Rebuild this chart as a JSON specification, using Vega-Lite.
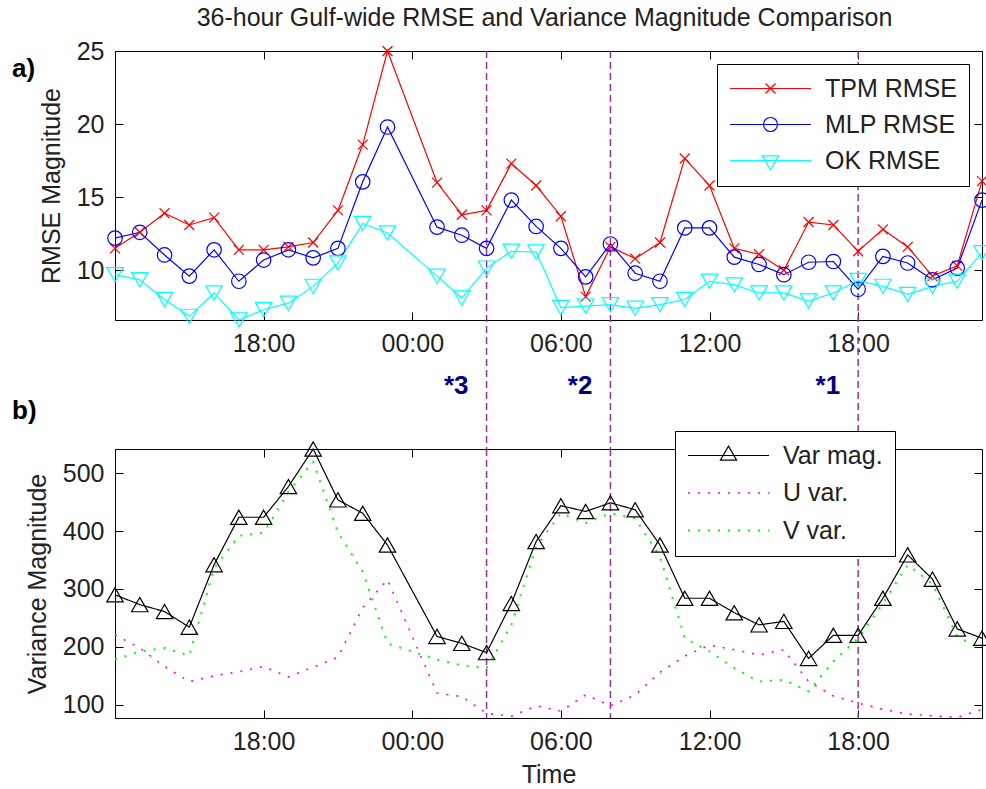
{
  "$schema": "https://vega.github.io/schema/vega-lite/v6.json",
  "background": "white",
  "padding": {"left": 11, "top": 5, "right": 5, "bottom": 5},
  "title": {"text": "36-hour Gulf-wide RMSE and Variance Magnitude Comparison", "fontSize": 25, "font": "Liberation Sans", "fontWeight": "normal", "color": "#222222", "anchor": "middle", "frame": "group", "offset": 8, "dx": -4},
  "config": {
    "font": "Liberation Sans",
    "view": {"stroke": "black", "strokeWidth": 1},
    "axis": {"domainColor": "black", "tickColor": "black", "labelColor": "#222222", "titleColor": "#222222", "labelFontSize": 25, "titleFontSize": 25, "titleFontWeight": "normal", "labelFont": "Liberation Sans", "titleFont": "Liberation Sans", "grid": false, "tickWidth": 1, "domainWidth": 1, "labelFlush": false, "labelOverlap": false},
    "legend": {"labelFont": "Liberation Sans", "labelFontSize": 25, "labelColor": "#222222", "fillColor": "white", "strokeColor": "black", "strokeWidth": 1, "padding": 12, "symbolSize": 6561, "symbolStrokeWidth": 1.2, "labelOffset": 13, "rowPadding": 10, "clipHeight": 25, "zindex": 2}
  },
  "datasets": {
    "events": [
      {"h": 15, "label": "*3"},
      {"h": 20, "label": "*2"},
      {"h": 30, "label": "*1"}
    ],
    "rmse": [
      {"h":0,"series":"TPM RMSE","v":11.5},{"h":1,"series":"TPM RMSE","v":12.6},{"h":2,"series":"TPM RMSE","v":13.9},{"h":3,"series":"TPM RMSE","v":13.1},{"h":4,"series":"TPM RMSE","v":13.6},{"h":5,"series":"TPM RMSE","v":11.4},{"h":6,"series":"TPM RMSE","v":11.4},{"h":7,"series":"TPM RMSE","v":11.6},{"h":8,"series":"TPM RMSE","v":11.9},{"h":9,"series":"TPM RMSE","v":14.1},{"h":10,"series":"TPM RMSE","v":18.6},{"h":11,"series":"TPM RMSE","v":25.0},{"h":13,"series":"TPM RMSE","v":16.0},{"h":14,"series":"TPM RMSE","v":13.8},{"h":15,"series":"TPM RMSE","v":14.1},{"h":16,"series":"TPM RMSE","v":17.3},{"h":17,"series":"TPM RMSE","v":15.8},{"h":18,"series":"TPM RMSE","v":13.7},{"h":19,"series":"TPM RMSE","v":8.2},{"h":20,"series":"TPM RMSE","v":11.6},{"h":21,"series":"TPM RMSE","v":10.8},{"h":22,"series":"TPM RMSE","v":11.9},{"h":23,"series":"TPM RMSE","v":17.65},{"h":24,"series":"TPM RMSE","v":15.8},{"h":25,"series":"TPM RMSE","v":11.5},{"h":26,"series":"TPM RMSE","v":11.1},{"h":27,"series":"TPM RMSE","v":10.0},{"h":28,"series":"TPM RMSE","v":13.3},{"h":29,"series":"TPM RMSE","v":13.1},{"h":30,"series":"TPM RMSE","v":11.3},{"h":31,"series":"TPM RMSE","v":12.8},{"h":32,"series":"TPM RMSE","v":11.6},{"h":33,"series":"TPM RMSE","v":9.6},{"h":34,"series":"TPM RMSE","v":10.3},{"h":35,"series":"TPM RMSE","v":16.1},
      {"h":0,"series":"MLP RMSE","v":12.2},{"h":1,"series":"MLP RMSE","v":12.6},{"h":2,"series":"MLP RMSE","v":11.05},{"h":3,"series":"MLP RMSE","v":9.6},{"h":4,"series":"MLP RMSE","v":11.4},{"h":5,"series":"MLP RMSE","v":9.25},{"h":6,"series":"MLP RMSE","v":10.7},{"h":7,"series":"MLP RMSE","v":11.4},{"h":8,"series":"MLP RMSE","v":10.85},{"h":9,"series":"MLP RMSE","v":11.5},{"h":10,"series":"MLP RMSE","v":16.05},{"h":11,"series":"MLP RMSE","v":19.8},{"h":13,"series":"MLP RMSE","v":12.95},{"h":14,"series":"MLP RMSE","v":12.4},{"h":15,"series":"MLP RMSE","v":11.5},{"h":16,"series":"MLP RMSE","v":14.8},{"h":17,"series":"MLP RMSE","v":13.0},{"h":18,"series":"MLP RMSE","v":11.5},{"h":19,"series":"MLP RMSE","v":9.55},{"h":20,"series":"MLP RMSE","v":11.8},{"h":21,"series":"MLP RMSE","v":9.8},{"h":22,"series":"MLP RMSE","v":9.25},{"h":23,"series":"MLP RMSE","v":12.9},{"h":24,"series":"MLP RMSE","v":12.9},{"h":25,"series":"MLP RMSE","v":10.9},{"h":26,"series":"MLP RMSE","v":10.4},{"h":27,"series":"MLP RMSE","v":9.7},{"h":28,"series":"MLP RMSE","v":10.55},{"h":29,"series":"MLP RMSE","v":10.6},{"h":30,"series":"MLP RMSE","v":8.7},{"h":31,"series":"MLP RMSE","v":10.95},{"h":32,"series":"MLP RMSE","v":10.5},{"h":33,"series":"MLP RMSE","v":9.35},{"h":34,"series":"MLP RMSE","v":10.15},{"h":35,"series":"MLP RMSE","v":14.8},
      {"h":0,"series":"OK RMSE","v":9.7},{"h":1,"series":"OK RMSE","v":9.35},{"h":2,"series":"OK RMSE","v":8.0},{"h":3,"series":"OK RMSE","v":6.85},{"h":4,"series":"OK RMSE","v":8.45},{"h":5,"series":"OK RMSE","v":6.6},{"h":6,"series":"OK RMSE","v":7.3},{"h":7,"series":"OK RMSE","v":7.75},{"h":8,"series":"OK RMSE","v":8.9},{"h":9,"series":"OK RMSE","v":10.5},{"h":10,"series":"OK RMSE","v":13.2},{"h":11,"series":"OK RMSE","v":12.55},{"h":13,"series":"OK RMSE","v":9.6},{"h":14,"series":"OK RMSE","v":8.1},{"h":15,"series":"OK RMSE","v":10.15},{"h":16,"series":"OK RMSE","v":11.3},{"h":17,"series":"OK RMSE","v":11.25},{"h":18,"series":"OK RMSE","v":7.45},{"h":19,"series":"OK RMSE","v":7.55},{"h":20,"series":"OK RMSE","v":7.65},{"h":21,"series":"OK RMSE","v":7.4},{"h":22,"series":"OK RMSE","v":7.65},{"h":23,"series":"OK RMSE","v":8.0},{"h":24,"series":"OK RMSE","v":9.25},{"h":25,"series":"OK RMSE","v":9.0},{"h":26,"series":"OK RMSE","v":8.45},{"h":27,"series":"OK RMSE","v":8.45},{"h":28,"series":"OK RMSE","v":7.9},{"h":29,"series":"OK RMSE","v":8.45},{"h":30,"series":"OK RMSE","v":9.3},{"h":31,"series":"OK RMSE","v":8.9},{"h":32,"series":"OK RMSE","v":8.35},{"h":33,"series":"OK RMSE","v":8.9},{"h":34,"series":"OK RMSE","v":9.25},{"h":35,"series":"OK RMSE","v":11.2}
    ],
    "variance": [
      {"h":0,"series":"Var mag.","v":290},{"h":1,"series":"Var mag.","v":273},{"h":2,"series":"Var mag.","v":261},{"h":3,"series":"Var mag.","v":234},{"h":4,"series":"Var mag.","v":342},{"h":5,"series":"Var mag.","v":424},{"h":6,"series":"Var mag.","v":424},{"h":7,"series":"Var mag.","v":477},{"h":8,"series":"Var mag.","v":542},{"h":9,"series":"Var mag.","v":454},{"h":10,"series":"Var mag.","v":431},{"h":11,"series":"Var mag.","v":376},{"h":13,"series":"Var mag.","v":218},{"h":14,"series":"Var mag.","v":206},{"h":15,"series":"Var mag.","v":190},{"h":16,"series":"Var mag.","v":275},{"h":17,"series":"Var mag.","v":382},{"h":18,"series":"Var mag.","v":444},{"h":19,"series":"Var mag.","v":434},{"h":20,"series":"Var mag.","v":449},{"h":21,"series":"Var mag.","v":437},{"h":22,"series":"Var mag.","v":376},{"h":23,"series":"Var mag.","v":284},{"h":24,"series":"Var mag.","v":284},{"h":25,"series":"Var mag.","v":259},{"h":26,"series":"Var mag.","v":238},{"h":27,"series":"Var mag.","v":244},{"h":28,"series":"Var mag.","v":180},{"h":29,"series":"Var mag.","v":220},{"h":30,"series":"Var mag.","v":220},{"h":31,"series":"Var mag.","v":284},{"h":32,"series":"Var mag.","v":359},{"h":33,"series":"Var mag.","v":317},{"h":34,"series":"Var mag.","v":231},{"h":35,"series":"Var mag.","v":215},
      {"h":0,"series":"U var.","v":221},{"h":1,"series":"U var.","v":198},{"h":2,"series":"U var.","v":166},{"h":3,"series":"U var.","v":140},{"h":4,"series":"U var.","v":150},{"h":5,"series":"U var.","v":157},{"h":6,"series":"U var.","v":166},{"h":7,"series":"U var.","v":148},{"h":8,"series":"U var.","v":165},{"h":9,"series":"U var.","v":182},{"h":10,"series":"U var.","v":268},{"h":11,"series":"U var.","v":316},{"h":13,"series":"U var.","v":120},{"h":14,"series":"U var.","v":114},{"h":15,"series":"U var.","v":85},{"h":16,"series":"U var.","v":80},{"h":17,"series":"U var.","v":98},{"h":18,"series":"U var.","v":89},{"h":19,"series":"U var.","v":117},{"h":20,"series":"U var.","v":98},{"h":21,"series":"U var.","v":117},{"h":22,"series":"U var.","v":156},{"h":23,"series":"U var.","v":184},{"h":24,"series":"U var.","v":203},{"h":25,"series":"U var.","v":195},{"h":26,"series":"U var.","v":186},{"h":27,"series":"U var.","v":195},{"h":28,"series":"U var.","v":140},{"h":29,"series":"U var.","v":115},{"h":30,"series":"U var.","v":103},{"h":31,"series":"U var.","v":92},{"h":32,"series":"U var.","v":84},{"h":33,"series":"U var.","v":81},{"h":34,"series":"U var.","v":78},{"h":35,"series":"U var.","v":92},
      {"h":0,"series":"V var.","v":178},{"h":1,"series":"V var.","v":192},{"h":2,"series":"V var.","v":198},{"h":3,"series":"V var.","v":185},{"h":4,"series":"V var.","v":336},{"h":5,"series":"V var.","v":392},{"h":6,"series":"V var.","v":397},{"h":7,"series":"V var.","v":468},{"h":8,"series":"V var.","v":520},{"h":9,"series":"V var.","v":398},{"h":10,"series":"V var.","v":330},{"h":11,"series":"V var.","v":206},{"h":13,"series":"V var.","v":178},{"h":14,"series":"V var.","v":168},{"h":15,"series":"V var.","v":163},{"h":16,"series":"V var.","v":238},{"h":17,"series":"V var.","v":373},{"h":18,"series":"V var.","v":431},{"h":19,"series":"V var.","v":414},{"h":20,"series":"V var.","v":431},{"h":21,"series":"V var.","v":422},{"h":22,"series":"V var.","v":356},{"h":23,"series":"V var.","v":215},{"h":24,"series":"V var.","v":192},{"h":25,"series":"V var.","v":163},{"h":26,"series":"V var.","v":140},{"h":27,"series":"V var.","v":143},{"h":28,"series":"V var.","v":123},{"h":29,"series":"V var.","v":175},{"h":30,"series":"V var.","v":215},{"h":31,"series":"V var.","v":275},{"h":32,"series":"V var.","v":342},{"h":33,"series":"V var.","v":309},{"h":34,"series":"V var.","v":218},{"h":35,"series":"V var.","v":195}
    ]
  },
  "bounds": "flush",
  "spacing": 129,
  "resolve": {"scale": {"color": "independent", "strokeDash": "independent", "strokeWidth": "independent"}, "legend": {"color": "independent"}},
  "vconcat": [
    {
      "width": 867,
      "height": 269,
      "title": {"text": "a)", "anchor": "start", "frame": "group", "fontSize": 26, "fontWeight": "bold", "color": "black", "dx": -103, "dy": 43, "offset": 0},
      "layer": [
        {
          "data": {"name": "events"},
          "mark": {"type": "rule", "color": "#9b30a0", "strokeDash": [7, 4], "strokeWidth": 1.5},
          "encoding": {
            "x": {"field": "h", "type": "quantitative", "axis": null},
            "y": {"datum": 25, "type": "quantitative", "axis": null},
            "y2": {"datum": -2.3}
          }
        },
        {
          "data": {"name": "events"},
          "mark": {"type": "text", "align": "right", "baseline": "middle", "dx": -18, "fontSize": 26, "fontWeight": "bold", "color": "#000080", "font": "Liberation Sans"},
          "encoding": {
            "x": {"field": "h", "type": "quantitative", "axis": null},
            "y": {"datum": 2.1, "type": "quantitative", "axis": null},
            "text": {"field": "label"}
          }
        },
        {
          "data": {"name": "rmse"},
          "mark": {"type": "line", "strokeWidth": 1.2},
          "encoding": {
            "x": {"field": "h", "type": "quantitative", "scale": {"domain": [0, 35], "nice": false, "zero": false},
                  "axis": {"orient": "bottom", "values": [6, 12, 18, 24, 30], "title": null, "ticks": false, "tickSize": 0, "labelPadding": 11, "labelExpr": "(((datum.value + 12) % 24) < 10 ? '0' : '') + ((datum.value + 12) % 24) + ':00'"}},
            "y": {"field": "v", "type": "quantitative", "scale": {"domain": [6.6, 25], "nice": false, "zero": false},
                  "axis": {"orient": "left", "values": [10, 15, 20, 25], "title": "RMSE Magnitude", "titlePadding": 12, "ticks": false, "tickSize": 0, "labelPadding": 11}},
            "color": {"field": "series", "type": "nominal",
                      "scale": {"domain": ["TPM RMSE", "MLP RMSE", "OK RMSE"], "range": ["#ff0000", "#0000ff", "#00ffff"]},
                      "legend": {"orient": "none", "legendX": 602, "legendY": 13, "title": null,
                                 "encode": {"symbols": {"update": {
                                   "shape": {"signal": "datum.value === 'TPM RMSE' ? 'M-1,0H1M-0.123,-0.123L0.123,0.123M-0.123,0.123L0.123,-0.123' : datum.value === 'MLP RMSE' ? 'M-1,0H1M0.173,0A0.173,0.173 0 1,1 -0.173,0A0.173,0.173 0 1,1 0.173,0' : 'M-1,0H1M-0.2,-0.115L0.2,-0.115L0,0.23Z'"},
                                   "fill": {"value": "transparent"}
                                 }}}}}
          }
        },
        {
          "data": {"name": "rmse"},
          "transform": [{"filter": "datum.series === 'TPM RMSE'"}],
          "mark": {"type": "point", "filled": false, "strokeWidth": 1.2, "opacity": 1, "shape": "M-1,-1L1,1M-1,1L1,-1", "size": 100},
          "encoding": {
            "x": {"field": "h", "type": "quantitative", "axis": {"orient": "top", "labels": false, "domain": false, "ticks": true, "tickSize": 8, "offset": -8, "values": [6, 12, 18, 24, 30], "title": null}},
            "y": {"field": "v", "type": "quantitative", "axis": {"orient": "right", "labels": false, "domain": false, "ticks": true, "tickSize": 8, "offset": -8, "values": [10, 15, 20, 25], "title": null}},
            "color": {"field": "series", "type": "nominal"}
          }
        },
        {
          "data": {"name": "rmse"},
          "transform": [{"filter": "datum.series === 'MLP RMSE'"}],
          "mark": {"type": "point", "filled": false, "strokeWidth": 1.2, "opacity": 1, "shape": "circle", "size": 210},
          "encoding": {
            "x": {"field": "h", "type": "quantitative", "axis": {"orient": "bottom", "labels": false, "domain": false, "ticks": true, "tickSize": 8, "offset": -8, "values": [6, 12, 18, 24, 30], "title": null}},
            "y": {"field": "v", "type": "quantitative", "axis": {"orient": "left", "labels": false, "domain": false, "ticks": true, "tickSize": 8, "offset": -8, "values": [10, 15, 20, 25], "title": null}},
            "color": {"field": "series", "type": "nominal"}
          }
        },
        {
          "data": {"name": "rmse"},
          "transform": [{"filter": "datum.series === 'OK RMSE'"}],
          "mark": {"type": "point", "filled": false, "strokeWidth": 1.2, "opacity": 1, "shape": "triangle-down", "size": 270},
          "encoding": {
            "x": {"field": "h", "type": "quantitative", "axis": null},
            "y": {"field": "v", "type": "quantitative", "axis": null},
            "color": {"field": "series", "type": "nominal"}
          }
        }
      ]
    },
    {
      "width": 867,
      "height": 269,
      "title": {"text": "b)", "anchor": "start", "frame": "group", "fontSize": 26, "fontWeight": "bold", "color": "black", "dx": -103, "offset": 7},
      "layer": [
        {
          "data": {"name": "events"},
          "mark": {"type": "rule", "color": "#9b30a0", "strokeDash": [7, 4], "strokeWidth": 1.5},
          "encoding": {
            "x": {"field": "h", "type": "quantitative", "axis": {"orient": "top", "labels": false, "domain": false, "ticks": true, "tickSize": 8, "offset": -8, "values": [6, 12, 18, 24, 30], "title": null}},
            "y": {"datum": 542, "type": "quantitative", "axis": {"orient": "right", "labels": false, "domain": false, "ticks": true, "tickSize": 8, "offset": -8, "values": [100, 200, 300, 400, 500], "title": null}},
            "y2": {"datum": 77}
          }
        },
        {
          "data": {"name": "variance"},
          "mark": {"type": "line", "strokeCap": "butt"},
          "encoding": {
            "x": {"field": "h", "type": "quantitative", "scale": {"domain": [0, 35], "nice": false, "zero": false},
                  "axis": {"orient": "bottom", "values": [6, 12, 18, 24, 30], "title": "Time", "titlePadding": 8, "ticks": false, "tickSize": 0, "labelPadding": 11, "labelExpr": "(((datum.value + 12) % 24) < 10 ? '0' : '') + ((datum.value + 12) % 24) + ':00'"}},
            "y": {"field": "v", "type": "quantitative", "scale": {"domain": [77, 542], "nice": false, "zero": false},
                  "axis": {"orient": "left", "values": [100, 200, 300, 400, 500], "title": "Variance Magnitude", "titlePadding": 12, "ticks": false, "tickSize": 0, "labelPadding": 11}},
            "color": {"field": "series", "type": "nominal",
                      "scale": {"domain": ["Var mag.", "U var.", "V var."], "range": ["#000000", "#ff00ff", "#00ff00"]},
                      "legend": {"orient": "none", "legendX": 560, "legendY": -18, "title": null, "rowPadding": 11.5,
                                 "encode": {"symbols": {"update": {
                                   "shape": {"signal": "datum.value === 'Var mag.' ? 'M-1,0H1M0,-0.23L-0.2,0.115L0.2,0.115Z' : 'M-1,0H1'"},
                                   "strokeDash": {"signal": "datum.value === 'Var mag.' ? [1, 0] : [2, 8]"},
                                   "strokeWidth": {"signal": "datum.value === 'Var mag.' ? 1.2 : 2"},
                                   "fill": {"value": "transparent"}
                                 }}}}},
            "strokeDash": {"field": "series", "type": "nominal", "scale": {"domain": ["Var mag.", "U var.", "V var."], "range": [[1, 0], [2, 8], [2, 8]]}, "legend": null},
            "strokeWidth": {"field": "series", "type": "nominal", "scale": {"domain": ["Var mag.", "U var.", "V var."], "range": [1.2, 2, 2]}, "legend": null}
          }
        },
        {
          "data": {"name": "variance"},
          "transform": [{"filter": "datum.series === 'Var mag.'"}],
          "mark": {"type": "point", "filled": false, "shape": "triangle-up", "size": 270, "strokeWidth": 1.2, "color": "black", "opacity": 1},
          "encoding": {
            "x": {"field": "h", "type": "quantitative", "axis": {"orient": "bottom", "labels": false, "domain": false, "ticks": true, "tickSize": 8, "offset": -8, "values": [6, 12, 18, 24, 30], "title": null}},
            "y": {"field": "v", "type": "quantitative", "axis": {"orient": "left", "labels": false, "domain": false, "ticks": true, "tickSize": 8, "offset": -8, "values": [100, 200, 300, 400, 500], "title": null}}
          }
        }
      ]
    }
  ]
}
